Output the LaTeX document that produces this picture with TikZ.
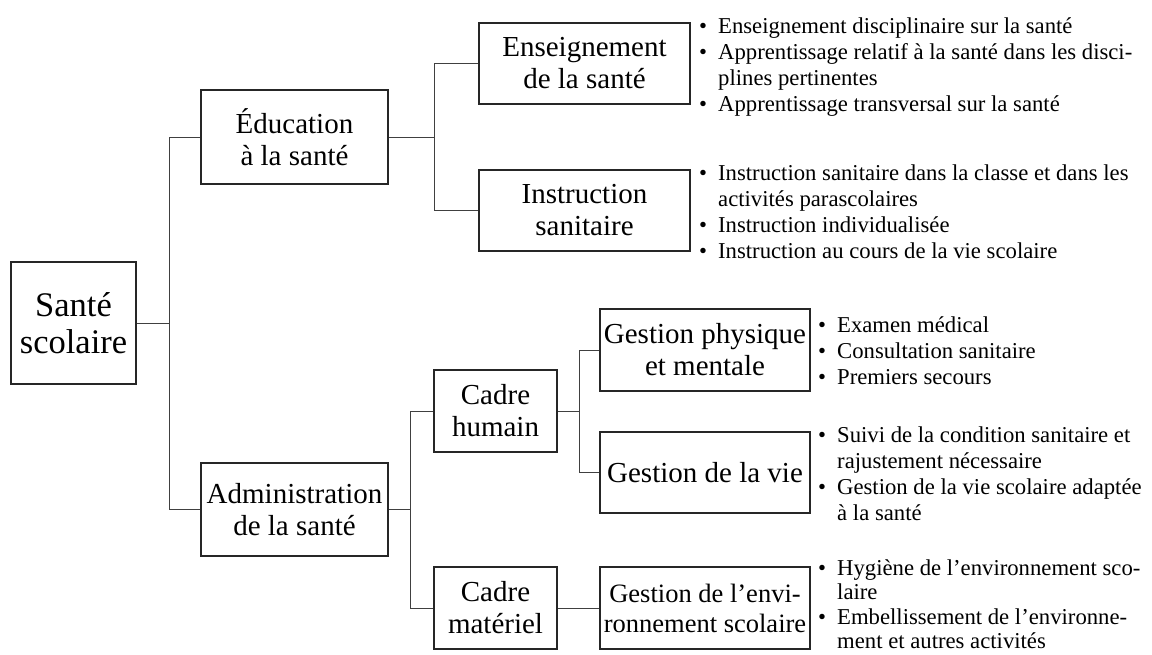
\documentclass[tikz,border=0pt]{standalone}
\usepackage{fontspec}
\setmainfont{Liberation Serif}
\begin{document}
\begin{tikzpicture}[x=1pt,y=-1pt,
  box/.style={draw=black!85,line width=1.1pt,inner sep=1pt,align=center,font=\fontsize{29}{32}\selectfont},
  conn/.style={draw=black!75,line width=0.9pt},
  blist/.style={inner sep=0pt,anchor=base west,font=\fontsize{22.7}{26}\selectfont}]
\useasboundingbox (0,0) rectangle (1152,655);
% boxes
\node[box,minimum width=125pt,minimum height=122pt,font=\fontsize{34.5}{37.5}\selectfont] (ss) at (73.5,323) {Santé\\scolaire};
\node[box,minimum width=187pt,minimum height=94pt] (edu) at (294.5,137) {Éducation\\à la santé};
\node[box,minimum width=187pt,minimum height=93pt] (adm) at (294.5,509.5) {Administration\\de la santé};
\node[box,minimum width=211pt,minimum height=81pt] (ens) at (584.5,63.5) {Enseignement\\de la santé};
\node[box,minimum width=211pt,minimum height=81pt] (ins) at (584.5,210.5) {Instruction\\sanitaire};
\node[box,minimum width=123pt,minimum height=82pt] (ch) at (495.5,411) {Cadre\\humain};
\node[box,minimum width=123pt,minimum height=82pt] (cm) at (495.5,608) {Cadre\\matériel};
\node[box,minimum width=210pt,minimum height=82pt] (gp) at (705,350) {Gestion physique\\et mentale};
\node[box,minimum width=210pt,minimum height=81pt] (gv) at (705,472.5) {Gestion de la vie};
\node[box,minimum width=210pt,minimum height=82pt,font=\fontsize{26.5}{30}\selectfont] (ge) at (705,608) {Gestion de l’envi-\\ronnement scolaire};
% connectors
\draw[conn] (ss.east) -- ++(33,0) coordinate (b1);
\draw[conn] (edu.west) -| (b1) |- (adm.west);
\draw[conn] (edu.east) -- ++(46,0) coordinate (b2);
\draw[conn] (ens.west) -| (b2) |- (ins.west);
\draw[conn] (adm.east) -- ++(22,0) coordinate (b3);
\draw[conn] (ch.west) -| (b3) |- (cm.west);
\draw[conn] (ch.east) -- ++(22,0) coordinate (b4);
\draw[conn] (gp.west) -| (b4) |- (gv.west);
\draw[conn] (cm.east) -- (ge.west);
% bullet lists
\node[blist] (l1) at (699,34) {\begin{tabular}[t]{@{}p{19pt}@{}l@{}}
\textbullet & Enseignement disciplinaire sur la santé\\
\textbullet & Apprentissage relatif à la santé dans les disci-\\
 & plines pertinentes\\
\textbullet & Apprentissage transversal sur la santé
\end{tabular}};
\node[blist] (l2) at (699,181) {\begin{tabular}[t]{@{}p{19pt}@{}l@{}}
\textbullet & Instruction sanitaire dans la classe et dans les\\
 & activités parascolaires\\
\textbullet & Instruction individualisée\\
\textbullet & Instruction au cours de la vie scolaire
\end{tabular}};
\node[blist] (l3) at (818,332) {\begin{tabular}[t]{@{}p{19pt}@{}l@{}}
\textbullet & Examen médical\\
\textbullet & Consultation sanitaire\\
\textbullet & Premiers secours
\end{tabular}};
\node[blist] (l4) at (818,442) {\begin{tabular}[t]{@{}p{19pt}@{}l@{}}
\textbullet & Suivi de la condition sanitaire et\\
 & rajustement nécessaire\\
\textbullet & Gestion de la vie scolaire adaptée\\
 & à la santé
\end{tabular}};
\node[blist,font=\fontsize{22.7}{24.6}\selectfont] (l5) at (818,575) {\begin{tabular}[t]{@{}p{19pt}@{}l@{}}
\textbullet & Hygiène de l’environnement sco-\\
 & laire\\
\textbullet & Embellissement de l’environne-\\
 & ment et autres activités
\end{tabular}};
\end{tikzpicture}
\end{document}
